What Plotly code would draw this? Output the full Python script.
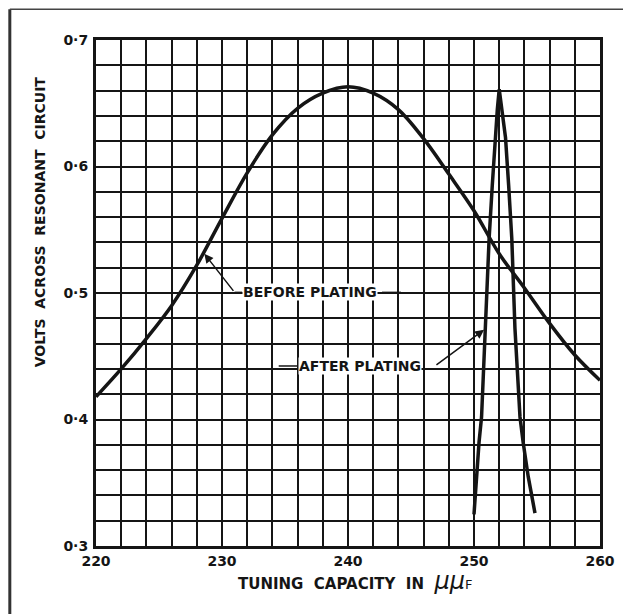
import plotly.graph_objects as go

# --- data ---
before_x = [220, 222, 224, 226, 228, 230, 232, 234, 236, 238, 240, 242, 244, 246, 248, 250, 252, 254, 256, 258, 260]
before_y = [0.418, 0.440, 0.464, 0.490, 0.522, 0.559, 0.595, 0.625, 0.646, 0.658, 0.663, 0.658, 0.645, 0.622, 0.594, 0.565, 0.531, 0.504, 0.476, 0.451, 0.431]

after_x = [250.0, 250.2, 250.4, 250.6, 250.87, 251.2, 251.45, 251.67, 251.85, 252.0, 252.2, 252.5, 252.75, 253.0, 253.25, 253.45, 253.65, 253.9, 254.3, 254.84]
after_y = [0.325, 0.355, 0.382, 0.402, 0.472, 0.543, 0.585, 0.623, 0.645, 0.661, 0.647, 0.623, 0.585, 0.543, 0.472, 0.435, 0.402, 0.382, 0.355, 0.326]

x_grid = list(range(220, 261, 2))
x_labels = {220: "220", 230: "230", 240: "240", 250: "250", 260: "260"}
x_ticktext = ["<b>%s</b>" % x_labels[v] if v in x_labels else "" for v in x_grid]
y_grid = [round(0.30 + 0.02 * i, 2) for i in range(21)]
y_labels = {0.3: "0·3", 0.4: "0·4", 0.5: "0·5", 0.6: "0·6", 0.7: "0·7"}
y_ticktext = ["<b>%s</b>" % y_labels[v] if v in y_labels else "" for v in y_grid]

INK = "#151515"
FONT = "DejaVu Sans"

fig = go.Figure()
fig.add_trace(go.Scatter(x=before_x, y=before_y, mode="lines", line=dict(color=INK, width=3.5, shape="spline", smoothing=1.0),
                         hoverinfo="skip", showlegend=False))
fig.add_trace(go.Scatter(x=after_x, y=after_y, mode="lines", line=dict(color=INK, width=3.5, shape="linear"),
                         hoverinfo="skip", showlegend=False))

axis_common = dict(showgrid=True, gridcolor=INK, gridwidth=2, zeroline=False, automargin=False,
                   showline=True, linecolor=INK, linewidth=3, mirror=True, ticks="",
                   tickfont=dict(family=FONT, size=14, color=INK))
fig.update_xaxes(range=[220, 260], tickmode="array", tickvals=x_grid, ticktext=x_ticktext, **axis_common)
fig.update_yaxes(range=[0.3, 0.7], tickmode="array", tickvals=y_grid, ticktext=y_ticktext, ticklabelstandoff=2, **axis_common)

# annotations: labels and arrows
fig.add_annotation(x=228.6, y=0.531, ax=231.0, ay=0.5005, xref="x", yref="y", axref="x", ayref="y",
                   text="", showarrow=True, arrowhead=2, arrowsize=1.2, arrowwidth=1.5, arrowcolor=INK)
fig.add_shape(type="line", x0=231.0, y0=0.5005, x1=231.6, y1=0.5005, line=dict(color=INK, width=1.5))
fig.add_annotation(x=231.6, y=0.5005, xref="x", yref="y", xanchor="left", yanchor="middle", showarrow=False,
                   text="<b>BEFORE PLATING</b>", font=dict(family=FONT, size=14, color=INK), bgcolor="white", borderpad=0)
fig.add_shape(type="line", x0=242.7, y0=0.5005, x1=244.2, y1=0.5005, line=dict(color=INK, width=1.5))

fig.add_shape(type="line", x0=234.5, y0=0.4423, x1=236.0, y1=0.4423, line=dict(color=INK, width=1.5))
fig.add_annotation(x=236.0, y=0.4423, xref="x", yref="y", xanchor="left", yanchor="middle", showarrow=False,
                   text="<b>AFTER PLATING</b>", font=dict(family=FONT, size=14, color=INK), bgcolor="white", borderpad=0)
fig.add_annotation(x=250.8, y=0.471, ax=246.9, ay=0.4423, xref="x", yref="y", axref="x", ayref="y",
                   text="", showarrow=True, arrowhead=2, arrowsize=1.2, arrowwidth=1.5, arrowcolor=INK)

# axis titles
fig.add_annotation(x=-0.111, y=0.640, xref="paper", yref="paper", xanchor="center", yanchor="middle",
                   textangle=-90, showarrow=False,
                   text="<b>VOLTS  ACROSS  RESONANT  CIRCUIT</b>", font=dict(family=FONT, size=14, color=INK))
fig.add_annotation(x=0.514, y=-0.069, xref="paper", yref="paper", xanchor="center", yanchor="middle", showarrow=False,
                   text="<b>TUNING  CAPACITY  IN  </b><i><span style='font-size:24px'>μμ</span></i><span style='font-size:13px'>F</span>",
                   font=dict(family=FONT, size=15, color=INK))

# scan frame lines
fig.add_shape(type="line", xref="paper", yref="paper", x0=-0.171, x1=-0.171, y0=1.061, y1=-0.14, line=dict(color="#333", width=3))
fig.add_shape(type="line", xref="paper", yref="paper", x0=-0.171, x1=1.07, y0=1.061, y1=1.061, line=dict(color="#444", width=1.5))

# page body adds an 8px margin, so the figure is sized to fit the 631x614 window
fig.update_layout(width=623, height=606, margin=dict(l=88, r=31, t=32, b=68),
                  paper_bgcolor="white", plot_bgcolor="white", showlegend=False)

fig.write_html("out.html")
